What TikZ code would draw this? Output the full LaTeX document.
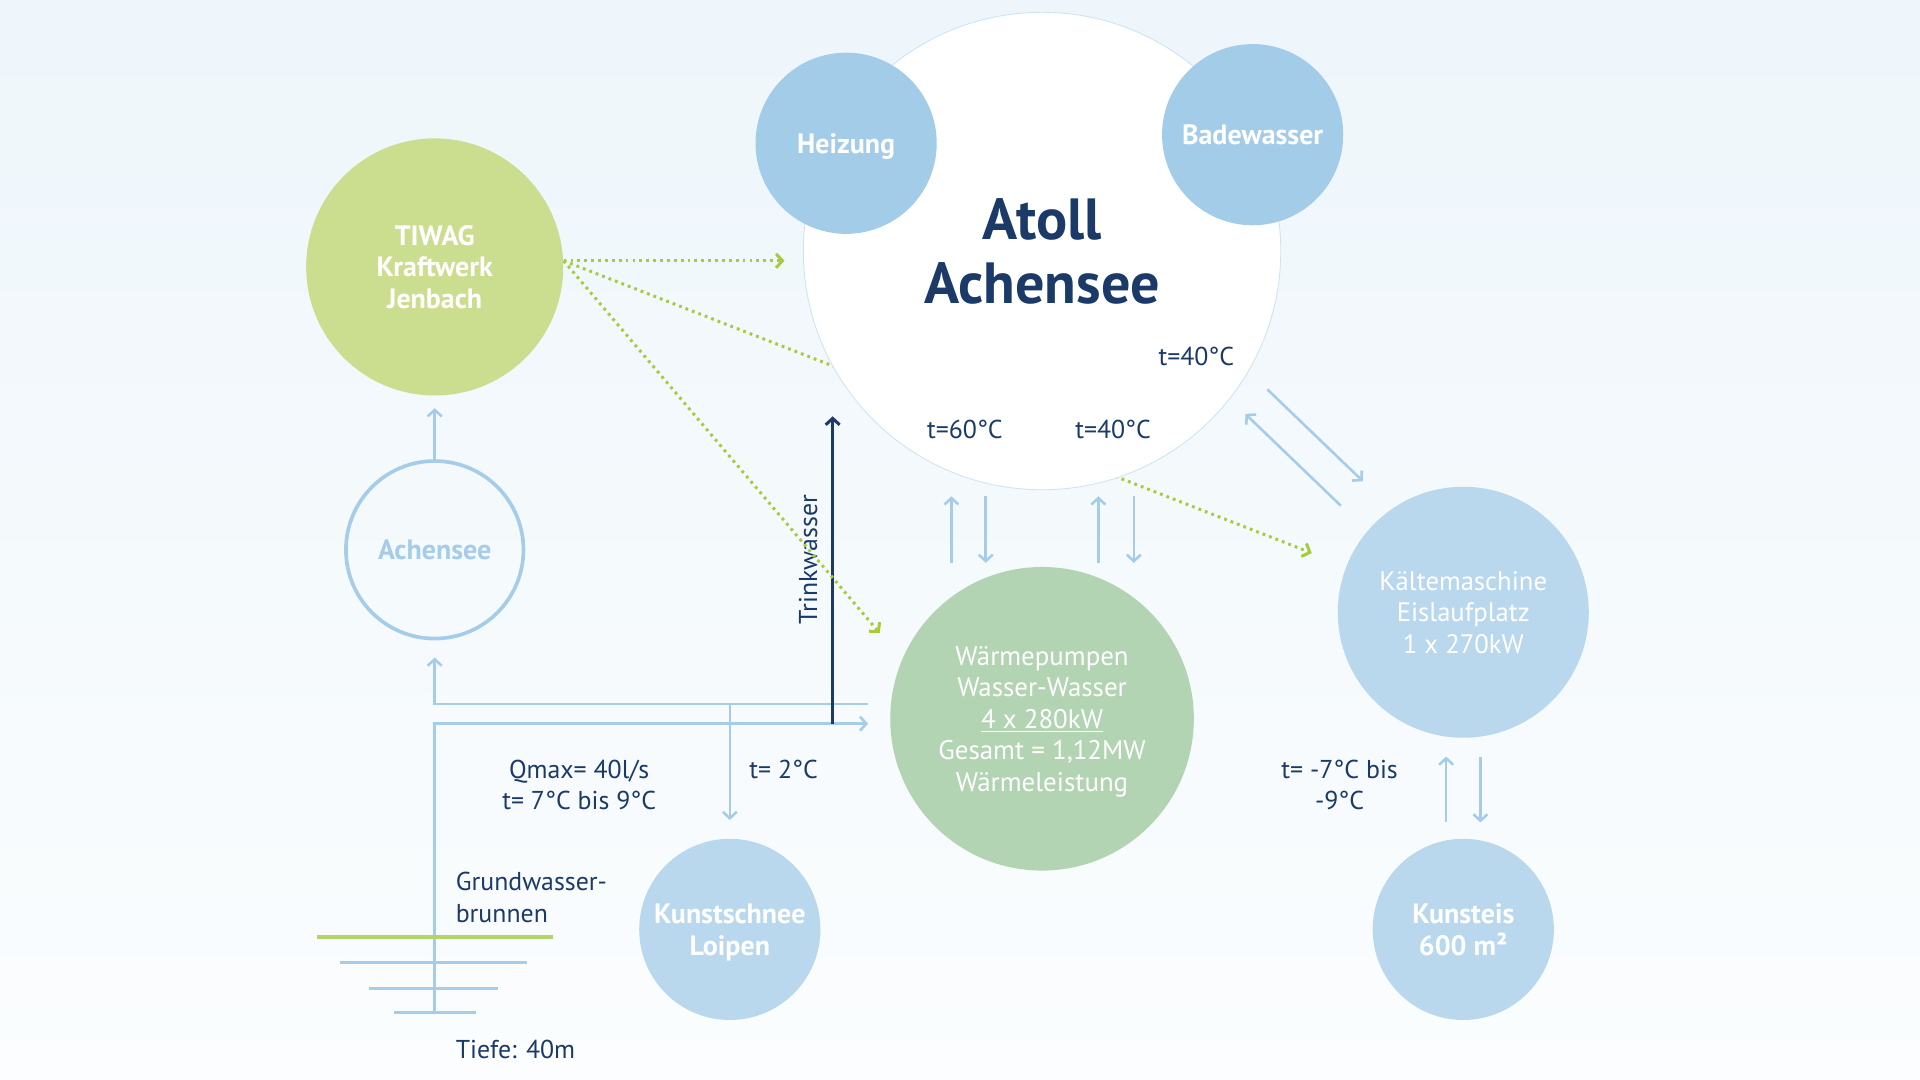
\documentclass[tikz,border=0pt]{standalone}
\usepackage{fontspec}
\setmainfont{PT Sans}
\usepackage{xcolor}
\usepackage{tikz}
\usetikzlibrary{arrows.meta}
\definecolor{navy}{RGB}{27,58,104}
\definecolor{pipeblue}{RGB}{165,205,234}
\definecolor{skyblue}{RGB}{163,204,233}
\definecolor{paleblue}{RGB}{185,216,238}
\definecolor{limegreen}{RGB}{203,222,143}
\definecolor{sagegreen}{RGB}{179,212,178}
\definecolor{dotgreen}{RGB}{168,203,60}
\definecolor{groundgreen}{RGB}{178,212,106}
\definecolor{bgtop}{RGB}{238,246,251}
\definecolor{bgbottom}{RGB}{251,253,254}
\definecolor{atollrim}{RGB}{205,228,242}
\pgfdeclarelayer{back}
\pgfdeclarelayer{mid}
\pgfsetlayers{back,mid,main}

\begin{document}
\begin{tikzpicture}[x=0.02cm,y=-0.02cm,
	blob/.style={circle,inner sep=0pt,text depth=0pt,text=white,align=center,font=\bfseries\fontsize{13}{14.7}\selectfont},
	txt/.style={text=navy,align=center,font=\fontsize{12}{14.7}\selectfont},
	pipe/.style={draw=pipeblue,line width=1.2pt,-{Straight Barb[length=3pt,width=6.5pt]}},
	feed/.style={draw=dotgreen,line width=1.4pt,dash pattern=on 1.3pt off 1.9pt,-{Straight Barb[length=3pt,width=6.5pt]}}]
	\useasboundingbox (0,0) rectangle (1568,882);
	\begin{pgfonlayer}{back}
		\shade[top color=bgtop,bottom color=bgbottom] (0,0) rectangle (1568,882);
	\end{pgfonlayer}
	
	\node[blob,fill=white,draw=atollrim,line width=0.4pt,minimum size=7.8cm,text=navy,font=\bfseries\fontsize{27}{30}\selectfont] (atoll) at (851,205) {Atoll\\Achensee};
	\node[blob,fill=skyblue,minimum size=2.96cm] (heizung) at (691,117) {Heizung};
	\node[blob,fill=skyblue,minimum size=2.96cm] (bade) at (1023,110) {Badewasser};
	\node[blob,fill=limegreen,minimum size=4.2cm] (tiwag) at (355,218) {TIWAG\\Kraftwerk\\Jenbach};
	\node[blob,draw=pipeblue,line width=1.7pt,minimum size=2.9cm,text=pipeblue] (see) at (355,449) {Achensee};
	\node[blob,fill=sagegreen,minimum size=4.96cm,font=\fontsize{12.5}{14.7}\selectfont] (wp) at (851,587) {Wärmepumpen\\Wasser-Wasser\\\underline{4 x 280kW}\\Gesamt = 1,12MW\\Wärmeleistung};
	\node[blob,fill=paleblue,minimum size=4.1cm,font=\fontsize{12.4}{14.7}\selectfont] (kaelte) at (1195,500) {Kältemaschine\\Eislaufplatz\\1 x 270kW};
	\node[blob,fill=paleblue,minimum size=2.96cm] (kunsteis) at (1195,759) {Kunsteis\\600 m²};
	\node[blob,fill=paleblue,minimum size=2.96cm] (schnee) at (596,759) {Kunstschnee\\Loipen};
	
	\node[txt] (t40a) at (977,291) {t=40°C};
	\node[txt] (t60) at (788,351) {t=60°C};
	\node[txt] (t40b) at (909,351) {t=40°C};
	\node[txt] (tkalt) at (1094,641) {t= -7°C bis\\-9°C};
	\node[txt] (qmax) at (473,641) {Qmax= 40l/s\\t= 7°C bis 9°C};
	\node[txt] (t2) at (640,628) {t= 2°C};
	\node[txt,align=left,anchor=west] (grund) at (366,733) {Grundwasser-\\brunnen};
	\node[txt,anchor=west] (tiefe) at (366,857) {Tiefe: 40m};
	\node[txt,rotate=90] (trink) at (660,457) {Trinkwasser};
	
	\coordinate (ret) at (709,575);
	\coordinate (sup) at (709,591);
	\coordinate (well) at (355,827);
	\coordinate (fork) at (596,575);
	\coordinate (tap) at (680,591);
	\coordinate (tapend) at (680,340);
	\coordinate (src) at ([yshift=0.1cm]tiwag.east);
	\coordinate (ak1) at (1035,318);
	\coordinate (ak2) at (1113,393);
	\coordinate (ka1) at (1095,413);
	\coordinate (ka2) at (1017,338);
	
	\draw[pipe,shorten >=0.2cm] (see.north) -- (tiwag.south);
	\draw[pipe,shorten >=0.28cm] (ret) -| (see.south);
	\draw[pipe] (well) |- (sup);
	\draw[pipe,shorten >=0.3cm] (fork) -- (schnee.north);
	\draw[navy,line width=1.4pt,-{Straight Barb[length=3pt,width=6.5pt]}] (tap) -- (tapend);
	
	\foreach \up/\down in {-1.48cm/-0.92cm,0.92cm/1.5cm}{
		\draw[pipe,shorten <=0.06cm,shorten >=0.1cm] ([xshift=\up]wp.north) -- ([xshift=\up]atoll.south);
		\draw[pipe,shorten <=0.1cm,shorten >=0.06cm] ([xshift=\down]atoll.south) -- ([xshift=\down]wp.north);
	}
	\draw[pipe] (ak1) -- (ak2);
	\draw[pipe] (ka1) -- (ka2);
	\draw[pipe,shorten <=0.26cm,shorten >=0.3cm] ([xshift=-0.28cm]kunsteis.north) -- ([xshift=-0.28cm]kaelte.south);
	\draw[pipe,shorten <=0.3cm,shorten >=0.26cm] ([xshift=0.28cm]kaelte.south) -- ([xshift=0.28cm]kunsteis.north);
	
	\draw[feed,shorten >=0.3cm] (src) -- (src -| atoll.west);
	\draw[feed,shorten >=0.56cm] (src) -- (wp.157);
	\begin{pgfonlayer}{mid}
		\draw[feed,shorten >=0.6cm] (src) -- (kaelte);
	\end{pgfonlayer}
	
	\draw[groundgreen,line width=1.8pt] (259,765) -- (452,765);
	\foreach \l/\r/\y in {278/430/786,301/407/807,322/389/827}
		\draw[pipeblue,line width=1.4pt] (\l,\y) -- (\r,\y);
\end{tikzpicture}
\end{document}
